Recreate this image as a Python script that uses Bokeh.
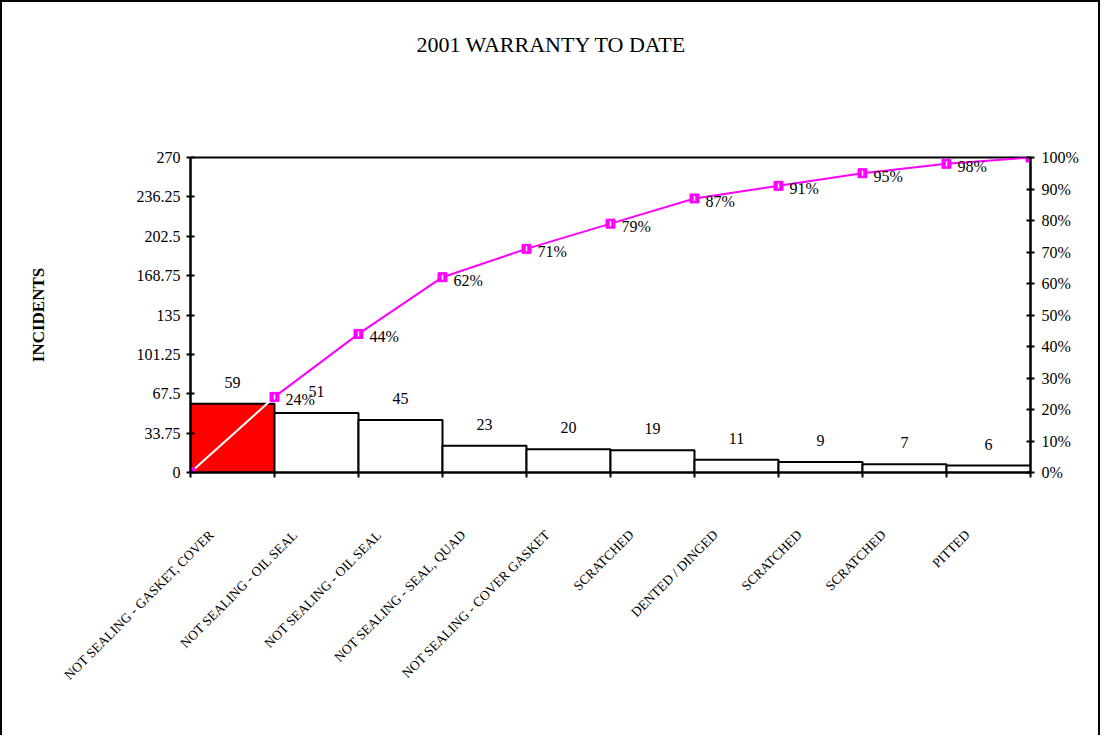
import math
from bokeh.plotting import figure
from bokeh.models import (Range1d, LinearAxis, FixedTicker, PrintfTickFormatter,
                          ColumnDataSource, LabelSet, Title)
from bokeh.embed import file_html
from bokeh.resources import INLINE

# ---------------- data ----------------
categories = [
    "NOT SEALING - GASKET, COVER",
    "NOT SEALING - OIL SEAL",
    "NOT SEALING - OIL SEAL",
    "NOT SEALING - SEAL, QUAD",
    "NOT SEALING - COVER GASKET",
    "SCRATCHED",
    "DENTED / DINGED",
    "SCRATCHED",
    "SCRATCHED",
    "PITTED",
]
incidents = [59, 51, 45, 23, 20, 19, 11, 9, 7, 6]
cumulative_pct = [0, 24, 44, 62, 71, 79, 87, 91, 95, 98, 100]
left_ticks = [0, 33.75, 67.5, 101.25, 135, 168.75, 202.5, 236.25, 270]
right_ticks = [0, 10, 20, 30, 40, 50, 60, 70, 80, 90, 100]
title_text = "2001 WARRANTY TO DATE"
y_label = "INCIDENTS"

# ---------------- style ----------------
FONT = "Liberation Serif"
MAGENTA = "#FF00FF"
W, H = 1100, 735
n = len(categories)

p = figure(width=W, height=H,
           x_range=Range1d(0, n), y_range=Range1d(0, left_ticks[-1]),
           output_backend="svg", toolbar_location=None,
           min_border_left=188, min_border_right=72,
           min_border_top=155, min_border_bottom=265)
p.title = None
p.styles = {"border-top": "2px solid black",
            "border-left": "2px solid black",
            "border-right": "2px solid black"}
p.background_fill_color = "white"
p.border_fill_color = "white"
p.outline_line_color = "black"
p.outline_line_width = 2
p.xgrid.visible = False
p.ygrid.visible = False

xa = p.below[0]   # bottom category axis
ya = p.left[0]    # left incidents axis

# invisible spacer between frame and title (white tick on white, no labels, no line)
spacer = LinearAxis(ticker=FixedTicker(ticks=[0]), axis_line_color=None,
                    major_tick_in=0, major_tick_out=101, major_label_standoff=0,
                    major_tick_line_color="white", minor_tick_line_color=None,
                    major_label_text_color=None)
p.add_layout(spacer, "above")

# title
p.add_layout(Title(text=title_text, align="left", offset=226, standoff=0,
                   text_font=FONT, text_font_size="22px",
                   text_font_style="normal", text_color="black"), "above")

# bottom axis: category labels, boundary ticks as minor ticks
label_shift = 0.25
centers = [i + 0.5 for i in range(n)]
label_pos = [c - label_shift for c in centers]
boundaries = list(range(n + 1))
xa.ticker = FixedTicker(ticks=label_pos, minor_ticks=boundaries)
xa.major_label_overrides = {c: lab for c, lab in zip(label_pos, categories)}
xa.major_label_orientation = math.pi / 4
xa.major_tick_line_color = None
xa.major_tick_in = 0
xa.major_tick_out = 0
xa.minor_tick_in = 0
xa.minor_tick_out = 5
xa.minor_tick_line_width = 2
xa.minor_tick_line_color = "black"
xa.axis_line_width = 2
xa.axis_line_color = "black"
xa.major_label_standoff = 55
xa.major_label_text_font = FONT
xa.major_label_text_font_size = "13.5px"
xa.major_label_text_color = "black"

# left axis
ya.ticker = FixedTicker(ticks=left_ticks)
ya.major_label_overrides = {t: f"{t:g}" for t in left_ticks}
ya.major_tick_in = 4
ya.major_tick_out = 4
ya.major_tick_line_width = 2
ya.major_tick_line_color = "black"
ya.minor_tick_line_color = None
ya.axis_line_width = 2
ya.axis_line_color = "black"
ya.major_label_standoff = 6
ya.major_label_text_font = FONT
ya.major_label_text_font_size = "16px"
ya.major_label_text_color = "black"
ya.axis_label = y_label
ya.axis_label_text_font = FONT
ya.axis_label_text_font_size = "17px"
ya.axis_label_text_font_style = "bold"
ya.axis_label_text_color = "black"
ya.axis_label_standoff = 86

# right axis (percent)
p.extra_y_ranges = {"pct": Range1d(0, right_ticks[-1])}
ra = LinearAxis(y_range_name="pct", ticker=FixedTicker(ticks=right_ticks),
                formatter=PrintfTickFormatter(format="%d%%"))
ra.major_tick_in = 4
ra.major_tick_out = 4
ra.major_tick_line_width = 2
ra.major_tick_line_color = "black"
ra.minor_tick_line_color = None
ra.axis_line_width = 2
ra.axis_line_color = "black"
ra.major_label_standoff = 7
ra.major_label_text_font = FONT
ra.major_label_text_font_size = "16px"
ra.major_label_text_color = "black"
p.add_layout(ra, "right")

# bars
bar_colors = ["#FF0000"] + ["#FFFFFF"] * (n - 1)
bars = ColumnDataSource(dict(x=centers, top=incidents, color=bar_colors,
                             txt=[str(v) for v in incidents]))
p.vbar(x="x", top="top", bottom=0, width=1, source=bars,
       fill_color="color", line_color="black", line_width=2)

# cumulative line
pos = boundaries
p.line(pos[:2], cumulative_pct[:2], y_range_name="pct", line_color="white", line_width=2)
p.line(pos[1:], cumulative_pct[1:], y_range_name="pct", line_color=MAGENTA, line_width=2)
p.scatter(pos, cumulative_pct, y_range_name="pct", marker="square", size=9,
          fill_color=MAGENTA, line_color=MAGENTA)
p.scatter(pos[1:], cumulative_pct[1:], y_range_name="pct", marker="dash", size=5,
          angle=math.pi / 2, line_color="white", line_width=1.5)

# bar value labels
p.add_layout(LabelSet(x="x", y="top", text="txt", source=bars,
                      text_align="center", text_baseline="bottom", y_offset=16,
                      text_font=FONT, text_font_size="16px", text_color="black"))

# cumulative percent labels (points 1..n-1)
pct_src = ColumnDataSource(dict(x=pos[1:-1], y=cumulative_pct[1:-1],
                                txt=[f"{v}%" for v in cumulative_pct[1:-1]]))
p.add_layout(LabelSet(x="x", y="y", text="txt", source=pct_src, y_range_name="pct",
                      text_align="left", text_baseline="middle",
                      x_offset=11, y_offset=-3,
                      text_font=FONT, text_font_size="16px", text_color="black"))

open("out.html", "w").write(file_html(p, INLINE))
